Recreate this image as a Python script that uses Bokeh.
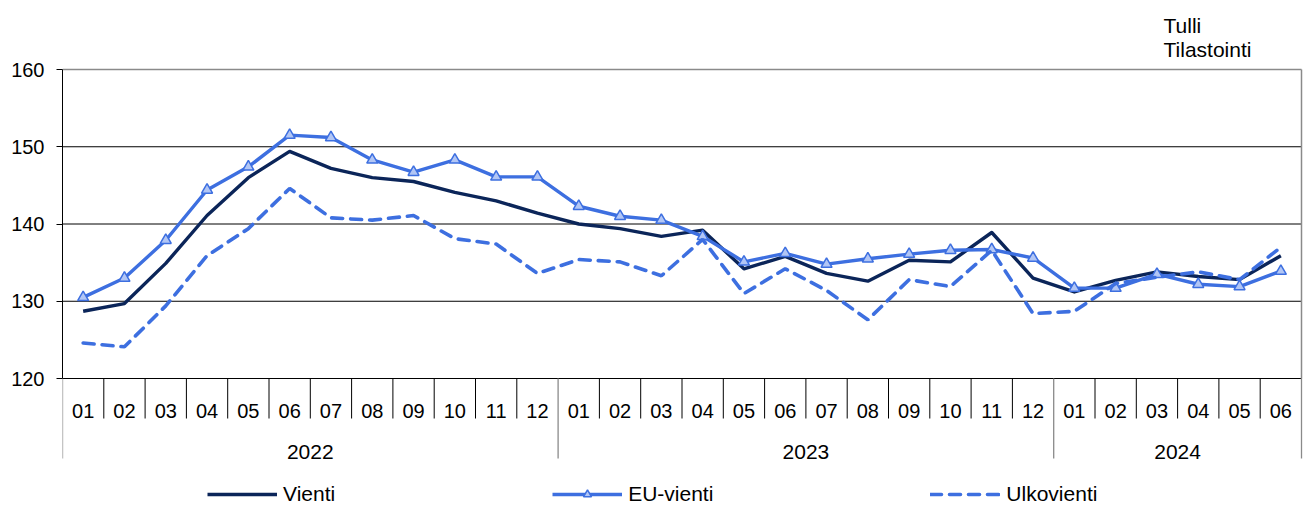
import numpy as np
from bokeh.plotting import figure
from bokeh.models import Range1d, FixedTicker, Legend, LegendItem
from bokeh.embed import file_html
from bokeh.resources import INLINE
from bokeh.core.properties import value

# ---------------- data ----------------
years = ["2022", "2023", "2024"]
months_in_year = [12, 12, 6]
months = ["01", "02", "03", "04", "05", "06", "07", "08", "09", "10", "11", "12",
          "01", "02", "03", "04", "05", "06", "07", "08", "09", "10", "11", "12",
          "01", "02", "03", "04", "05", "06"]
vienti = [128.7, 129.7, 134.9, 141.1, 146.0, 149.4, 147.2, 146.0, 145.5, 144.1, 143.0, 141.4,
          140.0, 139.4, 138.4, 139.2, 134.2, 135.8, 133.6, 132.6, 135.3, 135.1, 138.9, 133.0,
          131.2, 132.7, 133.8, 133.2, 132.8, 135.9]
eu_vienti = [130.5, 133.0, 137.9, 144.4, 147.4, 151.5, 151.2, 148.3, 146.7, 148.3, 146.1, 146.1,
             142.3, 141.0, 140.5, 138.4, 135.1, 136.2, 134.8, 135.5, 136.1, 136.6, 136.7, 135.6,
             131.7, 131.7, 133.5, 132.2, 131.9, 133.9]
ulkovienti = [124.6, 124.1, 129.4, 135.9, 139.4, 144.6, 140.8, 140.5, 141.1, 138.1, 137.4, 133.6,
              135.4, 135.1, 133.3, 138.0, 131.0, 134.2, 131.4, 127.6, 132.8, 131.9, 136.6, 128.4,
              128.7, 132.3, 133.1, 133.8, 132.8, 137.0]
series_names = ["Vienti", "EU-vienti", "Ulkovienti"]
y_ticks = [120, 130, 140, 150, 160]
source_text = ["Tulli", "Tilastointi"]

# ---------------- layout (pixels from the figure's top-left) ----------------
FIG_W, FIG_H = 1311, 506
BORDER_L = 62
PLOT_L, PLOT_R, PLOT_T, PLOT_B = 62, 1301, 69, 378
MONTH_SEP_B, YEAR_SEP_B = 418, 458
FONT = value("Liberation Sans")

VIENTI_C = "#0b2559"
EU_C = "#3d6fe0"
EU_FILL = "#b2c6f5"
GRID_C = "#000000"
BORDER_C = "#8a8a8a"

n = len(months)
ymin, ymax = y_ticks[0], y_ticks[-1]
frame_l, frame_r = BORDER_L, FIG_W
frame_t, frame_b = 0, FIG_H
x_end = n * (frame_r - frame_l) / (PLOT_R - PLOT_L)
ppu = (PLOT_B - PLOT_T) / (ymax - ymin)
y_end = ymax + (PLOT_T - frame_t) / ppu
y_start = ymin - (frame_b - PLOT_B) / ppu

p = figure(width=FIG_W, height=FIG_H, x_range=Range1d(0, x_end), y_range=Range1d(y_start, y_end),
           output_backend="svg", toolbar_location=None, x_axis_location=None,
           min_border_left=BORDER_L, min_border_right=0, min_border_top=0, min_border_bottom=0,
           outline_line_color=None, background_fill_color="white", border_fill_color="white")
p.title.visible = False
p.extra_y_ranges = {"px": Range1d(start=frame_b, end=frame_t)}
p.extra_x_ranges = {"pxx": Range1d(start=frame_l, end=frame_r)}
p.xgrid.visible = False
p.ygrid.visible = False

ax = p.yaxis[0]
ax.bounds = (ymin, ymax)
ax.ticker = FixedTicker(ticks=y_ticks)
ax.major_tick_out = 6
ax.major_tick_in = 0
ax.minor_tick_out = 0
ax.minor_tick_in = 0
ax.axis_line_color = "black"
ax.axis_line_width = 1
ax.major_tick_line_color = "black"
ax.major_label_standoff = 12
ax.major_label_text_font = "Liberation Sans"
ax.major_label_text_font_size = "20px"
ax.major_label_text_color = "black"

# horizontal grid lines and plot-area border
inner = y_ticks[1:-1]
p.segment(x0=[0] * len(inner), x1=[n] * len(inner), y0=inner, y1=inner, line_color=GRID_C, line_width=1)
p.segment(x0=[0], x1=[n], y0=[ymin], y1=[ymin], line_color="black", line_width=1.2)
p.segment(x0=[0], x1=[n], y0=[ymax], y1=[ymax], line_color=BORDER_C, line_width=1.5)
p.segment(x0=[n], x1=[n], y0=[ymin], y1=[ymax], line_color=BORDER_C, line_width=1.5)

# category separators below the plot
year_bounds = np.concatenate([[0], np.cumsum(months_in_year)])
month_bounds = [b for b in range(n + 1) if b not in set(year_bounds.tolist())]
p.segment(x0=month_bounds, x1=month_bounds, y0=[PLOT_B] * len(month_bounds),
          y1=[MONTH_SEP_B] * len(month_bounds), y_range_name="px", line_color="black", line_width=1)
p.segment(x0=year_bounds, x1=year_bounds, y0=[PLOT_B] * len(year_bounds),
          y1=[YEAR_SEP_B] * len(year_bounds), y_range_name="px", line_color=BORDER_C, line_width=1.3)

# month and year labels
xc = np.arange(n) + 0.5
p.text(x=xc, y=[410.5] * n, text=months, y_range_name="px", text_align="center",
       text_baseline="alphabetic", text_font=FONT, text_font_size="20px", text_color="black")
year_centers = (year_bounds[:-1] + year_bounds[1:]) / 2
p.text(x=year_centers, y=[451.5] * len(years), text=years, y_range_name="px", text_align="center",
       text_baseline="alphabetic", text_font=FONT, text_font_size="21px", text_color="black")

# source note
p.text(x=[1163] * len(source_text), y=[25, 48.5], text=source_text, x_range_name="pxx", y_range_name="px",
       text_align="left", text_baseline="alphabetic", text_font=FONT, text_font_size="21px",
       text_color="black")

# data series
r_v = p.line(xc, vienti, line_color=VIENTI_C, line_width=3.4, line_join="round")
r_eu = p.line(xc, eu_vienti, line_color=EU_C, line_width=3.4, line_join="round")
r_eum = p.scatter(xc, eu_vienti, marker="triangle", size=11, fill_color=EU_FILL,
                  line_color=EU_C, line_width=1.5)
r_u = p.line(xc, ulkovienti, line_color=EU_C, line_width=3.6, line_dash="11 8", line_cap="round")

legend = Legend(items=[LegendItem(label=series_names[0], renderers=[r_v]),
                       LegendItem(label=series_names[1], renderers=[r_eu, r_eum]),
                       LegendItem(label=series_names[2], renderers=[r_u])],
                orientation="horizontal", location=(207 - frame_l, 0), spacing=217,
                glyph_width=70, glyph_height=20, label_standoff=6, padding=0, margin=0,
                border_line_color=None, background_fill_alpha=0,
                label_text_font="Liberation Sans", label_text_font_size="21px",
                label_text_color="black")
p.add_layout(legend, "center")

open("out.html", "w").write(file_html(p, INLINE))
